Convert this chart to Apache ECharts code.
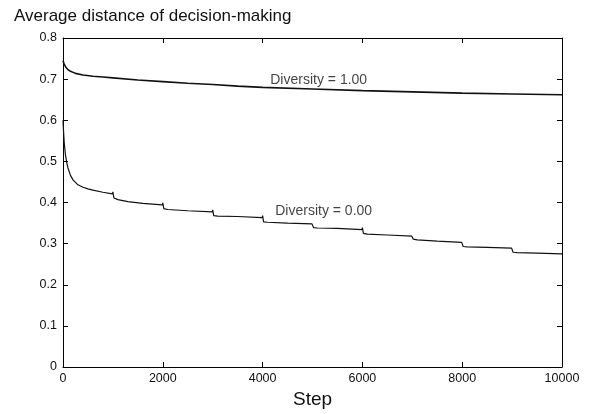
<!DOCTYPE html>
<html>
<head>
<meta charset="utf-8">
<script src="https://cdn.jsdelivr.net/npm/echarts@6/dist/echarts.min.js"></script>
<style>html,body{margin:0;padding:0;background:#fff;}#c{width:597px;height:414px;}</style>
</head>
<body>
<div id="c"></div>
<script>
const title = "Average distance of decision-making";
const xName = "Step";

// Diversity = 1.00 curve
const highSteps  = [0, 20, 50, 100, 150, 250, 400, 600, 800, 1000, 1500, 2000, 2500, 3000, 3500, 4000, 5000, 6000, 7000, 8000, 9000, 10000];
const highValues = [0.745, 0.738, 0.730, 0.723, 0.719, 0.714, 0.710, 0.707, 0.705, 0.703, 0.698, 0.694, 0.690, 0.687, 0.683, 0.680, 0.676, 0.672, 0.669, 0.666, 0.664, 0.662];

// Diversity = 0.00 curve
const lowSteps  = [0, 10, 25, 50, 75, 100, 150, 200, 300, 400, 500, 600, 800, 990,
  1000, 1020, 1100, 1300, 1600, 1990,
  2000, 2020, 2100, 2500, 2990,
  3000, 3020, 3100, 3500, 3990,
  4000, 4020, 4100, 4500, 4990,
  5000, 5020, 5100, 5500, 5990,
  6000, 6020, 6100, 6500, 6990,
  7000, 7020, 7100, 7500, 7990,
  8000, 8020, 8100, 8500, 8990,
  9000, 9020, 9100, 9500, 10000];
const lowValues = [0.600, 0.575, 0.545, 0.515, 0.497, 0.484, 0.466, 0.455, 0.443, 0.437, 0.433, 0.430, 0.425, 0.421,
  0.426, 0.411, 0.407, 0.402, 0.398, 0.394,
  0.399, 0.385, 0.383, 0.380, 0.377,
  0.382, 0.368, 0.367, 0.366, 0.363,
  0.368, 0.353, 0.352, 0.350, 0.348,
  0.352, 0.339, 0.338, 0.337, 0.334,
  0.339, 0.325, 0.323, 0.321, 0.318,
  0.322, 0.311, 0.309, 0.306, 0.303,
  0.307, 0.293, 0.292, 0.291, 0.289,
  0.293, 0.279, 0.278, 0.277, 0.275];

const labelTexts  = ["Diversity = 1.00", "Diversity = 0.00"];
const labelSteps  = [5124, 5224];
const labelValues = [0.698, 0.380];

const xTicks = [0, 2000, 4000, 6000, 8000, 10000];

const font = "'Liberation Sans', Arial, Helvetica, sans-serif";
const zip = (a, b) => a.map((v, i) => [v, b[i]]);

const chart = echarts.init(document.getElementById('c'), null, {renderer: 'canvas'});
const axisLine = {show: true, onZero: false, lineStyle: {color: '#000', width: 1}};
const tick = {show: true, inside: true, length: 5, lineStyle: {color: '#000', width: 1}};
chart.setOption({
  animation: false,
  backgroundColor: '#fff',
  title: {
    text: title, left: 9, top: 3,
    textStyle: {fontFamily: font, fontSize: 17, fontWeight: 'normal', color: '#111'}
  },
  grid: {left: 63, right: 35, top: 38, bottom: 39},
  xAxis: [{
    type: 'value', min: xTicks[0], max: xTicks[xTicks.length - 1], interval: 2000,
    name: xName, nameLocation: 'middle', nameGap: 23,
    nameTextStyle: {fontFamily: font, fontSize: 19, color: '#111'},
    axisLine: axisLine, axisTick: tick, splitLine: {show: false},
    axisLabel: {fontFamily: font, fontSize: 12.5, color: '#111', margin: 5, formatter: v => String(v)}
  }, {
    type: 'value', position: 'top', min: 0, max: 10000, interval: 2000,
    axisLine: axisLine, axisTick: tick, splitLine: {show: false}, axisLabel: {show: false}
  }],
  yAxis: [{
    type: 'value', min: 0, max: 0.8, interval: 0.1,
    axisLine: axisLine, axisTick: tick, splitLine: {show: false},
    axisLabel: {fontFamily: font, fontSize: 12.5, color: '#111', margin: 6}
  }, {
    type: 'value', position: 'right', min: 0, max: 0.8, interval: 0.1,
    axisLine: axisLine, axisTick: tick, splitLine: {show: false}, axisLabel: {show: false}
  }],
  series: [{
    type: 'line', data: zip(highSteps, highValues), showSymbol: false, symbol: 'none',
    lineStyle: {color: '#111', width: 1.6}
  }, {
    type: 'line', data: zip(lowSteps, lowValues), showSymbol: false, symbol: 'none',
    lineStyle: {color: '#111', width: 1.2}
  }, {
    type: 'scatter', symbolSize: 0, silent: true,
    data: labelTexts.map((t, i) => ({value: [labelSteps[i], labelValues[i]], name: t})),
    label: {
      show: true, position: 'inside', formatter: p => p.name,
      fontFamily: font, fontSize: 14, color: '#111'
    }
  }]
});
</script>
</body>
</html>
